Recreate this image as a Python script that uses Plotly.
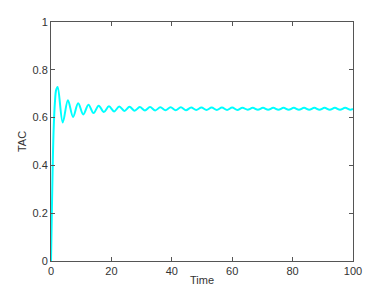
import plotly.graph_objects as go

# Initial rise (time, value)
rise_t = [0.0, 0.3, 0.6, 0.9, 1.3, 1.7]
rise_v = [0.0, 0.22, 0.42, 0.56, 0.665, 0.715]

# Oscillation peaks and troughs
peak_t = [2.2, 5.6, 9.0, 12.4, 15.8, 19.2, 22.6, 26.0, 29.4, 32.8, 36.2, 39.6, 43.0, 46.4,
          49.8, 53.2, 56.6, 60.0, 63.4, 66.8, 70.2, 73.6, 77.0, 80.4, 83.8, 87.2, 90.6, 94.0, 97.4]
peak_v = [0.728, 0.673, 0.660, 0.654, 0.650, 0.647, 0.646, 0.645, 0.644, 0.644, 0.643, 0.643,
          0.643, 0.642, 0.642, 0.642, 0.642, 0.642, 0.641, 0.641, 0.641, 0.641, 0.641, 0.641,
          0.641, 0.641, 0.641, 0.641, 0.641]
trough_t = [3.9, 7.3, 10.7, 14.1, 17.5, 20.9, 24.3, 27.7, 31.1, 34.5, 37.9, 41.3, 44.7, 48.1,
            51.5, 54.9, 58.3, 61.7, 65.1, 68.5, 71.9, 75.3, 78.7, 82.1, 85.5, 88.9, 92.3, 95.7, 99.1]
trough_v = [0.580, 0.603, 0.613, 0.619, 0.623, 0.626, 0.628, 0.629, 0.630, 0.630, 0.631, 0.631,
            0.631, 0.632, 0.632, 0.632, 0.632, 0.632, 0.633, 0.633, 0.633, 0.633, 0.633, 0.633,
            0.633, 0.633, 0.633, 0.633, 0.633]
end_t = [100.0]
end_v = [0.636]

x_ticks = [0, 20, 40, 60, 80, 100]
y_ticks = [0, 0.2, 0.4, 0.6, 0.8, 1]

osc_t = []
osc_v = []
for pt, pv, tt, tv in zip(peak_t, peak_v, trough_t, trough_v):
    osc_t += [pt, tt]
    osc_v += [pv, tv]

t = rise_t + osc_t + end_t
v = rise_v + osc_v + end_v

fig = go.Figure()
fig.add_trace(go.Scatter(x=t, y=v, mode="lines",
                         line=dict(color="#00FFFF", width=2, shape="spline", smoothing=1.0),
                         showlegend=False))

axis_common = dict(showgrid=False, zeroline=False, showline=True, linecolor="#555555",
                   linewidth=1, mirror="ticks", ticks="inside", ticklen=4, automargin=False,
                   tickcolor="#555555", tickfont=dict(family="Liberation Sans", size=11, color="#333333"))

fig.update_layout(
    width=382, height=285,
    margin=dict(l=43, r=37, t=14, b=32),
    paper_bgcolor="white", plot_bgcolor="white",
    xaxis=dict(range=[0, 100], tickvals=x_ticks,
               title=dict(text="Time", standoff=0,
                          font=dict(family="Liberation Sans", size=11, color="#333333")),
               **axis_common),
    yaxis=dict(range=[0, 1], tickvals=y_ticks,
               title=dict(text="TAC", standoff=3,
                          font=dict(family="Liberation Sans", size=11, color="#333333")),
               **axis_common),
)

fig.write_html("out.html")
